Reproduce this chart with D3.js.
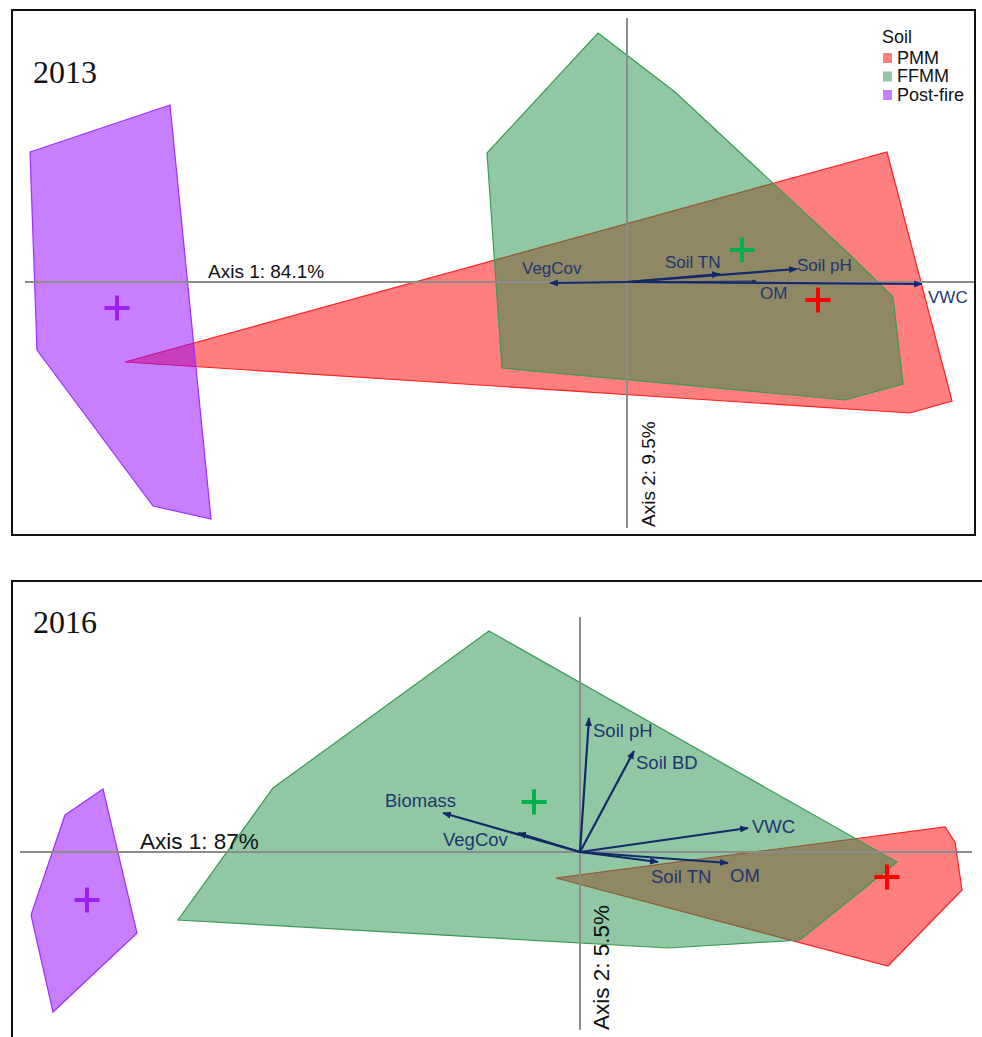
<!DOCTYPE html>
<html>
<head>
<meta charset="utf-8">
<script src="https://cdn.jsdelivr.net/npm/d3@7"></script>
<style>
  body { margin: 0; background: #fff; }
  svg { display: block; }
</style>
</head>
<body>
<div id="chart"></div>
<script>
// ---- data (ordination scores, arbitrary units) ----
const groups = ["PMM", "FFMM", "Post-fire"];

// 2013
const hull2013PMM = [[-5.02, -0.80], [2.60, 1.30], [3.25, -1.19], [2.83, -1.31]];
const hull2013FFMM = [[-0.29, 2.49], [0.48, 1.90], [2.23, 0.27], [2.66, -0.15], [2.76, -1.02], [2.18, -1.18], [-1.25, -0.86], [-1.40, 1.29]];
const hull2013Post = [[-5.97, 1.30], [-4.57, 1.77], [-4.16, -2.37], [-4.74, -2.24], [-5.90, -0.68]];
const centroids2013 = [[1.91, -0.18], [1.15, 0.32], [-5.10, -0.26]];
const vars2013 = ["VegCov", "Soil TN", "Soil pH", "OM", "VWC"];
const vecs2013 = [[-0.77, -0.01], [0.93, 0.08], [1.70, 0.13], [1.29, 0.01], [2.95, -0.02]];
const labelPos2013 = [[-1.05, 0.08], [0.38, 0.14], [1.70, 0.11], [1.33, -0.17], [3.01, -0.21]];

// 2016
const hull2016PMM = [[-0.24, -0.26], [3.65, 0.25], [3.75, 0.10], [3.82, -0.38], [3.08, -1.14]];
const hull2016FFMM = [[-0.91, 2.21], [3.17, -0.10], [2.20, -0.88], [0.88, -0.96], [-4.02, -0.68], [-3.07, 0.64]];
const hull2016Post = [[-5.15, 0.37], [-4.77, 0.63], [-4.43, -0.81], [-5.27, -1.60], [-5.49, -0.63]];
const centroids2016 = [[3.07, -0.25], [-0.46, 0.50], [-4.93, -0.48]];
const vars2016 = ["Soil pH", "Soil BD", "VWC", "OM", "Soil TN", "Biomass", "VegCov"];
const vecs2016 = [[0.09, 1.34], [0.54, 1.01], [1.68, 0.24], [1.48, -0.11], [0.78, -0.10], [-1.37, 0.39], [-0.62, 0.19]];
const labelPos2016 = [[0.13, 1.15], [0.56, 0.83], [1.72, 0.19], [1.50, -0.30], [0.71, -0.31], [-1.95, 0.45], [-1.37, 0.06]];

// ---- styling ----
const fillColors = ["#ff0000", "#21914a", "#8f00ff"];
const strokeColors = ["#ff2020", "#3c9a52", "#9b30ff"];
const crossColors = ["#ff0000", "#00b04c", "#9b20f0"];
const navy = "#13296b";

const svg = d3.select("#chart").append("svg")
    .attr("width", 982)
    .attr("height", 1037);

svg.append("defs").append("marker")
    .attr("id", "arrow")
    .attr("viewBox", "0 0 10 10")
    .attr("refX", 9)
    .attr("refY", 5)
    .attr("markerWidth", 4)
    .attr("markerHeight", 4)
    .attr("markerUnits", "strokeWidth")
    .attr("orient", "auto")
    .append("path")
    .attr("d", "M0,1 L10,5 L0,9 Z")
    .attr("fill", navy);

function drawPanel(cfg) {
    const g = svg.append("g");

    const x = d3.scaleLinear().domain(cfg.xDomain).range([cfg.box[0], cfg.box[2]]);
    const y = d3.scaleLinear().domain(cfg.yDomain).range([cfg.box[1], cfg.box[3]]);
    const line = d3.line().x(d => x(d[0])).y(d => y(d[1]));

    // hulls: PMM first, FFMM on top, then post-fire
    cfg.hulls.forEach((h, i) => {
        g.append("path")
            .attr("d", line(h) + "Z")
            .attr("fill", fillColors[i])
            .attr("fill-opacity", 0.5)
            .attr("stroke", strokeColors[i])
            .attr("stroke-width", 1.2);
    });

    // axes through origin
    g.append("line")
        .attr("x1", x(cfg.hAxis[0])).attr("x2", x(cfg.hAxis[1]))
        .attr("y1", y(0)).attr("y2", y(0))
        .attr("stroke", "#8c8c8c").attr("stroke-width", 2);
    g.append("line")
        .attr("x1", x(0)).attr("x2", x(0))
        .attr("y1", y(cfg.vAxis[0])).attr("y2", y(cfg.vAxis[1]))
        .attr("stroke", "#8c8c8c").attr("stroke-width", 2);

    g.append("text")
        .attr("x", x(cfg.axis1Pos[0]))
        .attr("y", y(cfg.axis1Pos[1]))
        .attr("font-family", "Liberation Sans, Arial, sans-serif")
        .attr("font-size", cfg.axisFont)
        .attr("fill", "#111")
        .text(cfg.axis1Label);
    g.append("text")
        .attr("transform", `translate(${cfg.axis2Pos[0]},${cfg.axis2Pos[1]}) rotate(-90)`)
        .attr("font-family", "Liberation Sans, Arial, sans-serif")
        .attr("font-size", cfg.axisFont)
        .attr("fill", "#111")
        .text(cfg.axis2Label);

    // environmental vectors
    g.selectAll(".vec")
        .data(cfg.vecs)
        .join("line")
        .attr("class", "vec")
        .attr("x1", x(0)).attr("y1", y(0))
        .attr("x2", d => x(d[0])).attr("y2", d => y(d[1]))
        .attr("stroke", navy)
        .attr("stroke-width", (d, i) => cfg.thin.includes(i) ? 1 : 2.2)
        .attr("marker-end", "url(#arrow)");

    g.selectAll(".vlabel")
        .data(cfg.vars)
        .join("text")
        .attr("class", "vlabel")
        .attr("x", (d, i) => x(cfg.labelPos[i][0]))
        .attr("y", (d, i) => y(cfg.labelPos[i][1]))
        .attr("font-family", "Liberation Sans, Arial, sans-serif")
        .attr("font-size", cfg.labelFont)
        .attr("fill", "#1f3570")
        .text(d => d);

    // centroid crosses
    cfg.centroids.forEach((c, i) => {
        const cx = x(c[0]), cy = y(c[1]), s = 12.5;
        g.append("path")
            .attr("d", `M${cx - s},${cy}H${cx + s}M${cx},${cy - s}V${cy + s}`)
            .attr("stroke", crossColors[i])
            .attr("stroke-width", 4);
    });

    // year label
    g.append("text")
        .attr("x", 33)
        .attr("y", cfg.yearY)
        .attr("font-family", "Liberation Serif, Times New Roman, serif")
        .attr("font-size", 32)
        .attr("fill", "#111")
        .text(cfg.year);

    // frame
    g.append("rect")
        .attr("x", cfg.box[0]).attr("y", cfg.box[1])
        .attr("width", cfg.box[2] - cfg.box[0])
        .attr("height", cfg.box[3] - cfg.box[1])
        .attr("fill", "none")
        .attr("stroke", "#111")
        .attr("stroke-width", 2);
}

drawPanel({
    year: "2013", yearY: 83,
    box: [12, 10, 975, 535],
    xDomain: [-6.15, 3.48], yDomain: [2.72, -2.53],
    hAxis: [-6.02, 3.48], vAxis: [2.64, -2.46],
    hulls: [hull2013PMM, hull2013FFMM, hull2013Post],
    centroids: centroids2013,
    vars: vars2013, vecs: vecs2013, labelPos: labelPos2013, thin: [3],
    axis1Label: "Axis 1: 84.1%", axis1Pos: [-4.19, 0.04],
    axis2Label: "Axis 2: 9.5%", axis2Pos: [655, 527],
    axisFont: 19, labelFont: 17
});

drawPanel({
    year: "2016", yearY: 633,
    box: [12, 581, 992, 1047],
    xDomain: [-5.68, 4.12], yDomain: [2.71, -1.95],
    hAxis: [-5.60, 3.92], vAxis: [2.35, -1.78],
    hulls: [hull2016PMM, hull2016FFMM, hull2016Post],
    centroids: centroids2016,
    vars: vars2016, vecs: vecs2016, labelPos: labelPos2016, thin: [],
    axis1Label: "Axis 1: 87%", axis1Pos: [-4.40, 0.03],
    axis2Label: "Axis 2: 5.5%", axis2Pos: [609, 1030],
    axisFont: 22.5, labelFont: 18.5
});

// legend (top panel)
const legend = svg.append("g").attr("font-family", "Liberation Sans, Arial, sans-serif");
legend.append("text").attr("x", 882).attr("y", 43).attr("font-size", 18).attr("fill", "#111").text("Soil");
legend.selectAll(".lg")
    .data(groups)
    .join("g")
    .attr("class", "lg")
    .attr("transform", (d, i) => `translate(883,${53 + i * 18.5})`)
    .each(function(d, i) {
        const s = d3.select(this);
        s.append("rect").attr("width", 9).attr("height", 10)
            .attr("fill", fillColors[i]).attr("fill-opacity", 0.5);
        s.append("text").attr("x", 14).attr("y", 10.5).attr("font-size", 18)
            .attr("fill", "#111").text(d);
    });
</script>
</body>
</html>
